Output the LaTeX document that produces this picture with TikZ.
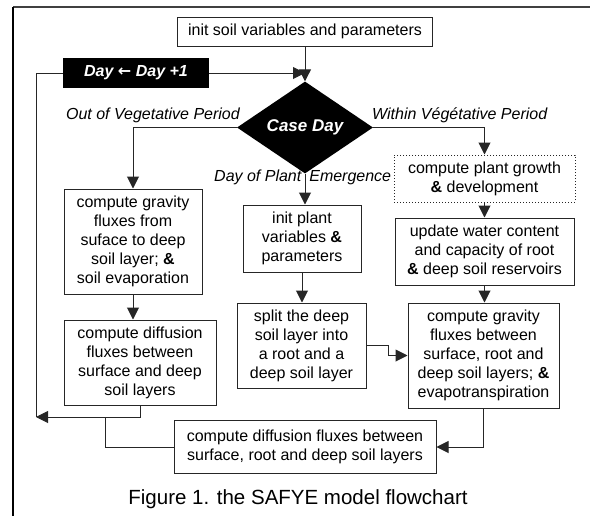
\documentclass[tikz,border=0pt]{standalone}
\usepackage{fontspec}
\setmainfont{Liberation Sans}
\newfontfamily\arrowfont{DejaVu Sans}
\usetikzlibrary{shapes.geometric,arrows.meta}

\begin{document}
\begin{tikzpicture}[x=1pt,y=-1pt,
  box/.style={draw=black!85,line width=1pt,inner sep=0pt,align=center,
    font=\fontsize{16}{19}\selectfont},
  blackbox/.style={fill=black,text=white,inner sep=0pt,
    font=\fontsize{16}{19}\selectfont\bfseries\itshape},
  lbl/.style={inner sep=0pt,font=\fontsize{16}{19}\selectfont\itshape},
  link/.style={line width=1pt,black!85},
  arr/.style={-{Triangle[length=12pt,width=12pt]}}]
  \useasboundingbox (0,0) rectangle (590,517);
  % frame
  \draw[line width=2pt,black!75] (13,6.5) -- (590,6.5);
  \draw[line width=1.2pt] (13,6.5) -- (13,516);

  \node[box,minimum width=255,minimum height=29] (init) at (305,31.5) {init soil variables and parameters};
  \node[blackbox,minimum width=146,minimum height=30] (day) at (136,73) {Day {\arrowfont\bfseries\upshape ←} Day +1};
  \node[blackbox,diamond,minimum width=136,minimum height=70,font=\fontsize{17}{19}\selectfont\bfseries\itshape] (case) at (305,127.5) {Case Day};

  \node[lbl,anchor=east] (outveg) at (240,115) {Out of Vegetative Period};
  \node[lbl,anchor=west] (inveg) at (372,115) {Within Végétative Period};
  \node[lbl,anchor=west] (emerg) at (214,177) {Day of Plant\hspace{8pt}Emergence};

  % left branch
  \node[box,minimum width=138,minimum height=105] (gravsoil) at (133,241.5) {compute gravity\\fluxes from\\suface to deep\\soil layer; \textbf{\&}\\soil evaporation};
  \node[box,minimum width=152,minimum height=85] (diffsoil) at (140,362.5) {compute diffusion\\fluxes between\\surface and deep\\soil layers};
  % middle branch
  \node[box,minimum width=118,minimum height=67] (initplant) at (302,238.5) {init plant\\variables \textbf{\&}\\parameters};
  \node[box,minimum width=129,minimum height=85] (split) at (301.5,345.5) {split the deep\\soil layer into\\a root and a\\deep soil layer};
  % right branch
  \node[box,dotted,minimum width=181,minimum height=47] (growth) at (484.5,178.5) {compute plant growth\\\textbf{\&} development};
  \node[box,minimum width=179,minimum height=67] (update) at (484.5,251.5) {update water content\\and capacity of root\\\textbf{\&} deep soil reservoirs};
  \node[box,minimum width=151,minimum height=105] (gravroot) at (483.5,355.5) {compute gravity\\fluxes between\\surface, root and\\deep soil layers; \textbf{\&}\\evapotranspiration};
  \node[box,minimum width=262,minimum height=53] (diffall) at (305,447) {compute diffusion fluxes between\\surface, root and deep soil layers};

  \node[font=\fontsize{20.5}{24}\selectfont] (caption) at (298,499) {Figure 1. the SAFYE model flowchart};

  \coordinate (loop) at (36,417);
  \coordinate (join) at (105,417);

  % connectors
  \draw[link,arr] (init.south) -- (case.north);
  \draw[link,arr] (day.east) -- (init.south |- day.east);
  \draw[link] (day.west) -| (loop);
  \draw[link,arr] (case.west) -| (gravsoil.north);
  \draw[link,arr] (case.east) -| (growth.north);
  \draw[link,arr] (case.south) -- (case.south |- initplant.north);
  \draw[link,arr] (gravsoil.south) -- (gravsoil.south |- diffsoil.north);
  \draw[link,arr] (initplant.south) -- (initplant.south |- split.north);
  \draw[link,arr] (growth) -- (update);
  \draw[link,arr] (update.south) -- (update.south |- gravroot.north);
  \draw[link,arr] (split.east) -- ++(22,0) |- (gravroot.west);
  \draw[link,arr] (gravroot.south) |- (diffall.east);
  \draw[link,arr] (diffsoil.south) |- (loop);
  \draw[link] (diffall.west) -| (join);
\end{tikzpicture}
\end{document}
